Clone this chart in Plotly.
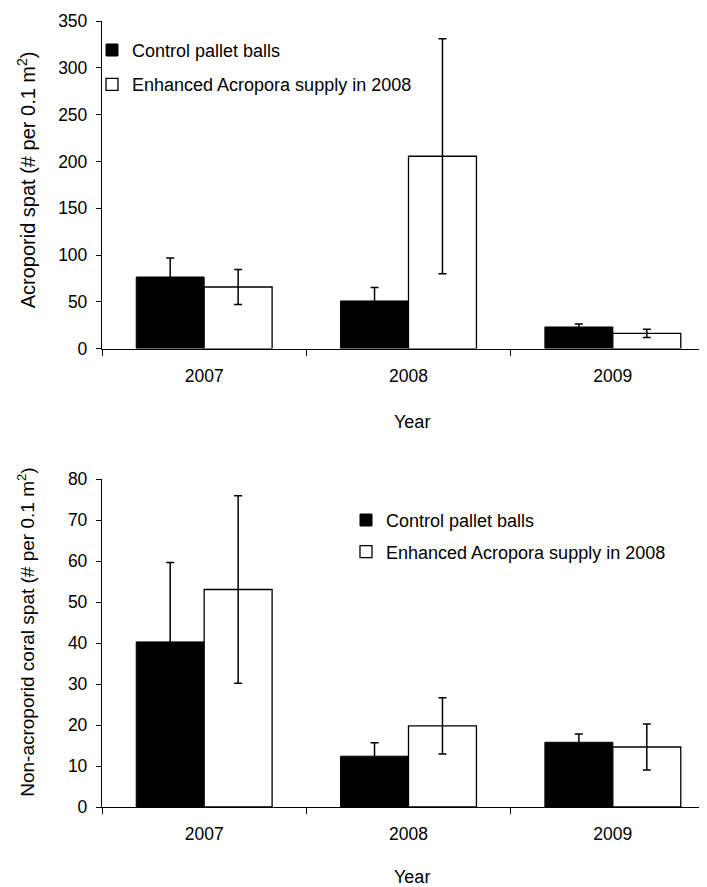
import plotly.graph_objects as go

years = ["2007", "2008", "2009"]
series_names = ["Control pallet balls", "Enhanced Acropora supply in 2008"]

# Top panel: Acroporid spat
acro_control = [76.5, 50.9, 23.1]
acro_control_err = [20.3, 14.3, 3.2]
acro_enhanced = [65.8, 205.5, 16.3]
acro_enhanced_err = [18.7, 125.5, 4.4]

# Bottom panel: Non-acroporid coral spat
non_control = [40.3, 12.4, 15.8]
non_control_err = [19.4, 3.3, 2.0]
non_enhanced = [53.1, 19.8, 14.65]
non_enhanced_err = [22.9, 6.85, 5.6]

# page body has an 8px default margin; the figure is offset by it
OFF = 8
W, H = 707, 887
ML, MR, MT, MB = 94, 0, 12.7, 88.3
plot_h = H - MT - MB
plot_w = W - ML - MR

FONT = "Liberation Sans, Arial, sans-serif"

def py(p):
    # page pixel y (from top) -> paper y
    return (H - MB - (p - OFF)) / plot_h

def px(p):
    return ((p - OFF) - ML) / plot_w

fig = go.Figure()

err_style = dict(type="data", visible=True, color="black", thickness=1.5, width=4)

fig.add_trace(go.Bar(x=years, y=acro_control, name=series_names[0], showlegend=True,
                     marker=dict(color="black", line=dict(color="black", width=1)),
                     error_y=dict(array=acro_control_err, **err_style),
                     xaxis="x2", yaxis="y2", legend="legend", offsetgroup="a"))
fig.add_trace(go.Bar(x=years, y=acro_enhanced, name=series_names[1], showlegend=True,
                     marker=dict(color="white", line=dict(color="black", width=1.3)),
                     error_y=dict(array=acro_enhanced_err, **err_style),
                     xaxis="x2", yaxis="y2", legend="legend2", offsetgroup="b"))
fig.add_trace(go.Bar(x=years, y=non_control, name=series_names[0], showlegend=True,
                     marker=dict(color="black", line=dict(color="black", width=1)),
                     error_y=dict(array=non_control_err, **err_style),
                     xaxis="x", yaxis="y", legend="legend3", offsetgroup="a"))
fig.add_trace(go.Bar(x=years, y=non_enhanced, name=series_names[1], showlegend=True,
                     marker=dict(color="white", line=dict(color="black", width=1.3)),
                     error_y=dict(array=non_enhanced_err, **err_style),
                     xaxis="x", yaxis="y", legend="legend4", offsetgroup="b"))

xcommon = dict(type="category", categoryorder="array", categoryarray=years,
               range=[-0.5, 2.5], tickson="boundaries", ticks="outside",
               ticklen=6, tickwidth=1.3, tickcolor="black", showline=True,
               linecolor="black", linewidth=1.3, showgrid=False, zeroline=False,
               ticklabelstandoff=11, automargin=False,
               tickfont=dict(size=17.5, color="black", family=FONT))
ycommon = dict(ticks="outside", ticklen=5, tickwidth=1.3, tickcolor="black",
               showline=True, linecolor="black", linewidth=1.3, showgrid=False,
               zeroline=False, ticklabelstandoff=5, automargin=False,
               tickfont=dict(size=17.5, color="black", family=FONT))

top_dom = [py(348.3), py(20.7)]
bot_dom = [py(806.7), py(479.0)]

legend_common = dict(font=dict(size=18, color="black", family=FONT),
                     bgcolor="rgba(0,0,0,0)", borderwidth=0,
                     xanchor="left", yanchor="middle")

fig.update_layout(
    width=W, height=H, showlegend=True,
    margin=dict(l=ML, r=MR, t=MT, b=MB, autoexpand=False),
    paper_bgcolor="white", plot_bgcolor="white",
    barmode="group", bargap=0.335, bargroupgap=0,
    font=dict(family=FONT, size=17.5, color="black"),
    xaxis=dict(anchor="y", domain=[0, 1], **xcommon),
    yaxis=dict(anchor="x", domain=bot_dom, range=[0, 80], dtick=10, **ycommon),
    xaxis2=dict(anchor="y2", domain=[0, 1], **xcommon),
    yaxis2=dict(anchor="x2", domain=top_dom, range=[0, 350], dtick=50, **ycommon),
    legend=dict(x=px(92), y=py(50), **legend_common),
    legend2=dict(x=px(92), y=py(84.3), **legend_common),
    legend3=dict(x=px(346), y=py(520), **legend_common),
    legend4=dict(x=px(346), y=py(551.7), **legend_common),
)

fig.add_annotation(text="Year", xref="paper", yref="paper", x=px(412), y=py(421.7),
                   showarrow=False, font=dict(size=18, color="black", family=FONT),
                   xanchor="center", yanchor="middle")
fig.add_annotation(text="Year", xref="paper", yref="paper", x=px(412), y=py(877),
                   showarrow=False, font=dict(size=18, color="black", family=FONT),
                   xanchor="center", yanchor="middle")
fig.add_annotation(text="Acroporid spat (# per 0.1 m<sup>2</sup>)", xref="paper", yref="paper",
                   x=px(26), y=py(180), textangle=-90, showarrow=False,
                   font=dict(size=20, color="black", family=FONT),
                   xanchor="center", yanchor="middle")
fig.add_annotation(text="Non-acroporid coral spat (# per 0.1 m<sup>2</sup>)", xref="paper", yref="paper",
                   x=px(26), y=py(631.5), textangle=-90, showarrow=False,
                   font=dict(size=19, color="black", family=FONT),
                   xanchor="center", yanchor="middle")

fig.write_html("out.html")
